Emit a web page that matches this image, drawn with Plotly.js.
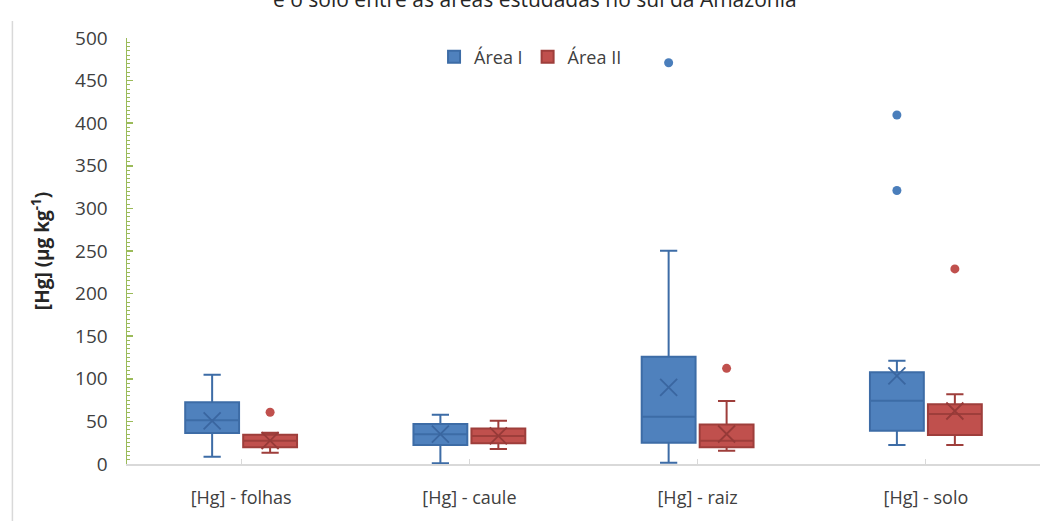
<!DOCTYPE html>
<html>
<head>
<meta charset="utf-8">
<script src="https://cdn.plot.ly/plotly-3.0.1.min.js"></script>
<style>html,body{margin:0;padding:0;background:#fff;}#chart{width:1043px;height:521px;}</style>
</head>
<body>
<div id="chart"></div>
<script>
// Data
const titleText = 'e o solo entre as áreas estudadas no sul da Amazônia';
const categories = ["[Hg] - folhas", "[Hg] - caule", "[Hg] - raiz", "[Hg] - solo"];
const seriesNames = ["Área I", "Área II"];

const areaI_lower   = [8.6, 1, 1.6, 22.3];
const areaI_q1      = [36.4, 22.3, 25, 39.1];
const areaI_median  = [51.3, 34.8, 55.6, 74.3];
const areaI_q3      = [72.4, 47, 126, 107.6];
const areaI_upper   = [104.8, 57.9, 250.4, 121.3];
const areaI_mean    = [50.5, 35, 90, 103.5];
const areaI_outliers = [[], [], [471], [409.6, 321]];

const areaII_lower   = [13.3, 17.6, 15.6, 22.3];
const areaII_q1      = [19.6, 24.3, 19.6, 34];
const areaII_median  = [27.4, 33, 27.4, 58.7];
const areaII_q3      = [34.4, 41.8, 46.5, 70];
const areaII_upper   = [36.8, 50.8, 74, 81.8];
const areaII_mean    = [27.5, 33, 35.2, 62.2];
const areaII_outliers = [[60.7], [], [112.3], [229]];

const yTickVals = [0, 50, 100, 150, 200, 250, 300, 350, 400, 450, 500];

// layout constants
const OFFSET = 0.127, BOXW = 0.236;
const idx = categories.map((c, i) => i);
const posI = idx.map(i => i - OFFSET);
const posII = idx.map(i => i + OFFSET);

function flatPts(pos, outs) {
  const xs = [], ys = [];
  outs.forEach((arr, i) => arr.forEach(v => { xs.push(pos[i]); ys.push(v); }));
  return {xs, ys};
}

const blueFill = '#4f81bd', blueLine = '#3d6ca6';
const redFill = '#c0504d', redLine = '#9e3e3b';

const traces = [
  {type: 'box', name: seriesNames[0], x: posI, q1: areaI_q1, median: areaI_median, q3: areaI_q3,
   lowerfence: areaI_lower, upperfence: areaI_upper, width: BOXW, whiskerwidth: 0.32,
   fillcolor: blueFill, line: {color: blueLine, width: 2}, boxpoints: false, hoverinfo: 'skip'},
  {type: 'box', name: seriesNames[1], x: posII, q1: areaII_q1, median: areaII_median, q3: areaII_q3,
   lowerfence: areaII_lower, upperfence: areaII_upper, width: BOXW, whiskerwidth: 0.32,
   fillcolor: redFill, line: {color: redLine, width: 2}, boxpoints: false, hoverinfo: 'skip'},
  {type: 'scatter', mode: 'markers', x: posI, y: areaI_mean, showlegend: false,
   marker: {symbol: 'x-thin-open', size: 17, color: '#3a66a0', line: {color: '#3a66a0', width: 1.8}}},
  {type: 'scatter', mode: 'markers', x: posII, y: areaII_mean, showlegend: false,
   marker: {symbol: 'x-thin-open', size: 17, color: '#963a38', line: {color: '#963a38', width: 1.8}}}
];
const oI = flatPts(posI, areaI_outliers), oII = flatPts(posII, areaII_outliers);
traces.push({type: 'scatter', mode: 'markers', x: oI.xs, y: oI.ys, showlegend: false,
  marker: {symbol: 'circle', size: 9, color: '#4a7ebb'}});
traces.push({type: 'scatter', mode: 'markers', x: oII.xs, y: oII.ys, showlegend: false,
  marker: {symbol: 'circle', size: 9, color: '#c0504d'}});

const layout = {
  width: 1043, height: 521,
  margin: {l: 127, r: 3, t: 38, b: 57},
  paper_bgcolor: '#ffffff', plot_bgcolor: '#ffffff',
  font: {family: '"Open Sans", Lato, sans-serif', color: '#404040', size: 18},
  annotations: [{text: titleText, xref: 'paper', yref: 'paper', x: 0.447, xanchor: 'center',
                 y: 1.0915, yanchor: 'middle', showarrow: false,
                 font: {family: '"Open Sans", Lato, sans-serif', size: 21, color: '#262626'}}],
  showlegend: true,
  legend: {orientation: 'h', x: 0.442, xanchor: 'center', y: 0.955, yanchor: 'middle',
           font: {size: 18, color: '#404040'}, bgcolor: 'rgba(0,0,0,0)', itemwidth: 30},
  xaxis: {range: [-0.5, 3.5], tickvals: idx, ticktext: categories, showgrid: false, zeroline: false,
          showline: true, linecolor: '#d9d9d9', linewidth: 2, ticks: 'inside', ticklen: 5,
          tickcolor: '#d9d9d9', tickfont: {size: 18, color: '#404040'}, ticklabelstandoff: 16},
  yaxis: {range: [0, 500], tickvals: yTickVals, showgrid: false, zeroline: false,
          showline: true, linecolor: '#9bbb59', linewidth: 1.5, ticks: 'inside', ticklen: 6,
          tickcolor: '#9bbb59', tickwidth: 1.5,
          minor: {ticks: 'inside', dtick: 5, ticklen: 3, tickcolor: '#9bbb59', tickwidth: 1},
          tickfont: {size: 19, color: '#404040'}, ticklabelstandoff: 14,
          title: {text: '<b>[Hg] (µg kg<sup>-1</sup>)</b>', font: {size: 19, color: '#262626'}, standoff: 20}},
  shapes: [{type: 'line', xref: 'paper', yref: 'paper', x0: -0.1255, x1: -0.1255, y0: 1.04, y1: -0.2,
            line: {color: '#d9d9d9', width: 1.5}}]
};

Plotly.newPlot('chart', traces, layout, {displayModeBar: false, staticPlot: true});
</script>
</body>
</html>
